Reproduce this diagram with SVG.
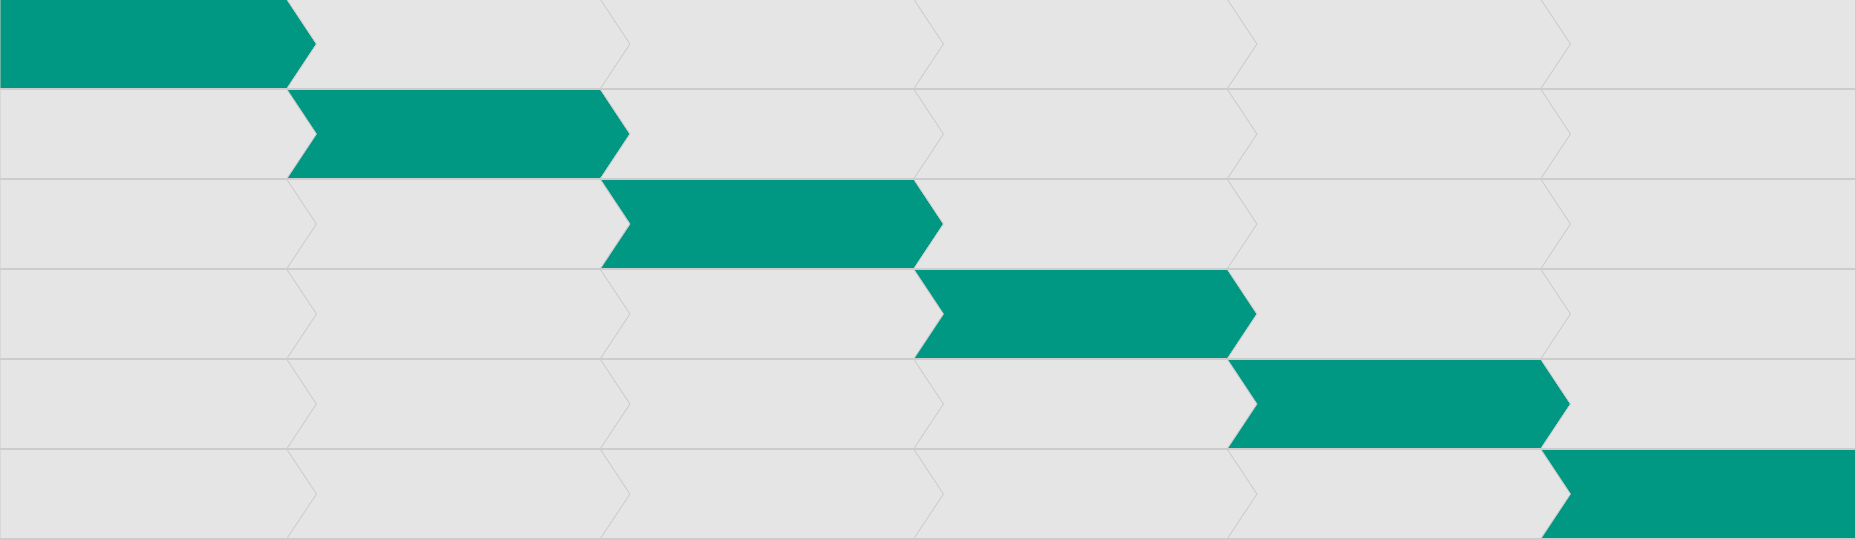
<svg xmlns="http://www.w3.org/2000/svg" width="1856" height="540" viewBox="0 0 1856 540">
<style>
.c{fill:#e5e5e5;stroke:#cccccc;stroke-width:1}
.a{fill:#009882;stroke:#cccccc;stroke-width:1}
</style>
<rect x="0" y="0" width="1856" height="540" fill="#cccccc"/>
<g id="row1">
<polygon class="a" points="0,-0.5 287,-0.5 316.5,44 287,88.5 0,88.5"/>
<polygon class="c" points="287,-0.5 600.5,-0.5 630,44 600.5,88.5 287,88.5 316.5,44"/>
<polygon class="c" points="600.5,-0.5 914,-0.5 943.5,44 914,88.5 600.5,88.5 630,44"/>
<polygon class="c" points="914,-0.5 1227.5,-0.5 1257,44 1227.5,88.5 914,88.5 943.5,44"/>
<polygon class="c" points="1227.5,-0.5 1541,-0.5 1570.5,44 1541,88.5 1227.5,88.5 1257,44"/>
<polygon class="c" points="1541,-0.5 1855.5,-0.5 1855.5,88.5 1541,88.5 1570.5,44"/>
</g>
<g id="row2">
<polygon class="c" points="0,89.5 287,89.5 316.5,134 287,178.5 0,178.5"/>
<polygon class="a" points="287,89.5 600.5,89.5 630,134 600.5,178.5 287,178.5 316.5,134"/>
<polygon class="c" points="600.5,89.5 914,89.5 943.5,134 914,178.5 600.5,178.5 630,134"/>
<polygon class="c" points="914,89.5 1227.5,89.5 1257,134 1227.5,178.5 914,178.5 943.5,134"/>
<polygon class="c" points="1227.5,89.5 1541,89.5 1570.5,134 1541,178.5 1227.5,178.5 1257,134"/>
<polygon class="c" points="1541,89.5 1855.5,89.5 1855.5,178.5 1541,178.5 1570.5,134"/>
</g>
<g id="row3">
<polygon class="c" points="0,179.5 287,179.5 316.5,224 287,268.5 0,268.5"/>
<polygon class="c" points="287,179.5 600.5,179.5 630,224 600.5,268.5 287,268.5 316.5,224"/>
<polygon class="a" points="600.5,179.5 914,179.5 943.5,224 914,268.5 600.5,268.5 630,224"/>
<polygon class="c" points="914,179.5 1227.5,179.5 1257,224 1227.5,268.5 914,268.5 943.5,224"/>
<polygon class="c" points="1227.5,179.5 1541,179.5 1570.5,224 1541,268.5 1227.5,268.5 1257,224"/>
<polygon class="c" points="1541,179.5 1855.5,179.5 1855.5,268.5 1541,268.5 1570.5,224"/>
</g>
<g id="row4">
<polygon class="c" points="0,269.5 287,269.5 316.5,314 287,358.5 0,358.5"/>
<polygon class="c" points="287,269.5 600.5,269.5 630,314 600.5,358.5 287,358.5 316.5,314"/>
<polygon class="c" points="600.5,269.5 914,269.5 943.5,314 914,358.5 600.5,358.5 630,314"/>
<polygon class="a" points="914,269.5 1227.5,269.5 1257,314 1227.5,358.5 914,358.5 943.5,314"/>
<polygon class="c" points="1227.5,269.5 1541,269.5 1570.5,314 1541,358.5 1227.5,358.5 1257,314"/>
<polygon class="c" points="1541,269.5 1855.5,269.5 1855.5,358.5 1541,358.5 1570.5,314"/>
</g>
<g id="row5">
<polygon class="c" points="0,359.5 287,359.5 316.5,404 287,448.5 0,448.5"/>
<polygon class="c" points="287,359.5 600.5,359.5 630,404 600.5,448.5 287,448.5 316.5,404"/>
<polygon class="c" points="600.5,359.5 914,359.5 943.5,404 914,448.5 600.5,448.5 630,404"/>
<polygon class="c" points="914,359.5 1227.5,359.5 1257,404 1227.5,448.5 914,448.5 943.5,404"/>
<polygon class="a" points="1227.5,359.5 1541,359.5 1570.5,404 1541,448.5 1227.5,448.5 1257,404"/>
<polygon class="c" points="1541,359.5 1855.5,359.5 1855.5,448.5 1541,448.5 1570.5,404"/>
</g>
<g id="row6">
<polygon class="c" points="0,449.5 287,449.5 316.5,494 287,538.5 0,538.5"/>
<polygon class="c" points="287,449.5 600.5,449.5 630,494 600.5,538.5 287,538.5 316.5,494"/>
<polygon class="c" points="600.5,449.5 914,449.5 943.5,494 914,538.5 600.5,538.5 630,494"/>
<polygon class="c" points="914,449.5 1227.5,449.5 1257,494 1227.5,538.5 914,538.5 943.5,494"/>
<polygon class="c" points="1227.5,449.5 1541,449.5 1570.5,494 1541,538.5 1227.5,538.5 1257,494"/>
<polygon class="a" points="1541,449.5 1855.5,449.5 1855.5,538.5 1541,538.5 1570.5,494"/>
</g>
<g id="connectors"/>
</svg>
